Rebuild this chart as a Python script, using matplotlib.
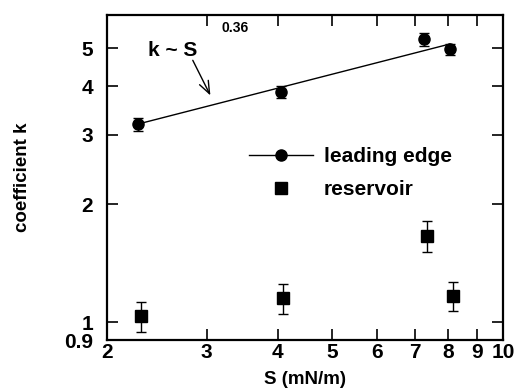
import matplotlib
matplotlib.use("Agg")
import matplotlib.pyplot as plt
from matplotlib.lines import Line2D
from matplotlib.ticker import FixedLocator, FixedFormatter, NullLocator

plt.rcParams['font.family'] = ['Liberation Sans', 'DejaVu Sans']
plt.rcParams['font.weight'] = 'bold'

### données

# bord d'attaque (leading edge)
s_lead = [2.27, 4.05, 7.25, 8.06]
k_lead = [3.20, 3.86, 5.26, 4.96]
err_lead = [0.12, 0.13, 0.20, 0.15]

# réservoir
s_res = [2.30, 4.09, 7.35, 8.17]
k_res = [1.036, 1.149, 1.662, 1.165]
err_res = [0.09, 0.10, 0.15, 0.10]

# ajustement k ~ S^0.36
fit_s = [2.27, 8.06]
fit_k = [3.20, 5.12]

xticks = [2, 3, 4, 5, 6, 7, 8, 9, 10]
yticks = [0.9, 1, 2, 3, 4, 5]

### figure

fig = plt.figure(figsize=(5.18, 3.92), dpi=100)
W, H = 518, 392
ax = fig.add_axes([107/W, 1 - 340/H, 396/W, 325/H])
ax.set_xscale('log')
ax.set_yscale('log')
ax.set_xlim(2, 10)
ax.set_ylim(0.9, 6.07)

ax.plot(fit_s, fit_k, color='black', lw=1.0)
ax.errorbar(s_lead, k_lead, yerr=err_lead, fmt='o', color='black', ms=8,
            capsize=3.5, elinewidth=1, capthick=1)
ax.errorbar(s_res, k_res, yerr=err_res, fmt='s', color='black', ms=8.5,
            capsize=3.5, elinewidth=1, capthick=1)

# axes
ax.xaxis.set_major_locator(FixedLocator(xticks))
ax.xaxis.set_major_formatter(FixedFormatter([str(v) for v in xticks]))
ax.xaxis.set_minor_locator(NullLocator())
ax.yaxis.set_major_locator(FixedLocator(yticks))
ax.yaxis.set_major_formatter(FixedFormatter(['0.9', '1', '2', '3', '4', '5']))
ax.yaxis.set_minor_locator(NullLocator())
ax.tick_params(direction='in', length=8, width=1.2, top=True, right=True,
               labelsize=15)
ax.tick_params(axis='x', pad=2)
ax.tick_params(axis='y', pad=10)
for sp in ax.spines.values():
    sp.set_linewidth(1.6)

ax.set_xlabel('S (mN/m)', fontsize=13.5, fontweight='bold', labelpad=7)
ax.set_ylabel('coefficient k', fontsize=13.5, fontweight='bold', labelpad=24)

# annotation
ax.annotate('', xy=(3.06, 3.73), xytext=(2.82, 4.72),
            arrowprops=dict(arrowstyle='->,head_width=0.35,head_length=0.9',
                            color='black', lw=1.0))
ax.text(0.1035, 0.892, 'k ~ S', transform=ax.transAxes, fontsize=15,
        fontweight='bold', va='center')
ax.text(0.29, 0.96, '0.36', transform=ax.transAxes, fontsize=10,
        fontweight='bold', va='center')

# légende
handles = [Line2D([], [], color='black', marker='o', ms=8, lw=1.0),
           Line2D([], [], color='black', marker='s', ms=8.5, lw=0)]
ax.legend(handles, ['leading edge', 'reservoir'], frameon=False,
          loc='upper left', bbox_to_anchor=(0.31, 0.652), fontsize=15,
          handlelength=3.1, handletextpad=0.5, labelspacing=0.68)

fig.savefig('out.png', dpi=100)
